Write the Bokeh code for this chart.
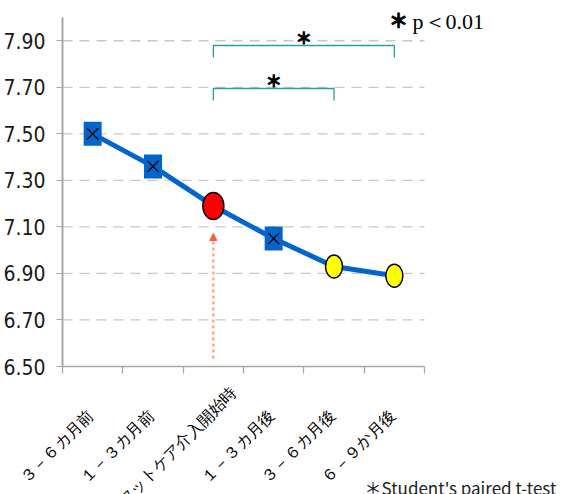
import math
from bokeh.plotting import figure
from bokeh.models import (Range1d, FixedTicker, PrintfTickFormatter, Label, LabelSet,
                          Arrow, NormalHead, ColumnDataSource, LinearAxis)
from bokeh.embed import file_html
from bokeh.resources import INLINE

# ---------------- data ----------------
categories = ["３－６カ月前", "１－３カ月前", "フットケア介入開始時", "１－３カ月後", "３－６カ月後", "６－９か月後"]
values = [7.50, 7.36, 7.19, 7.05, 6.93, 6.89]
y_ticks = [6.50, 6.70, 6.90, 7.10, 7.30, 7.50, 7.70, 7.90]
y_min, y_max = 6.5, 8.0
square_idx = [0, 1, 3]      # blue square markers
start_idx = [2]             # intervention start (red)
post_idx = [4, 5]           # significant post values (yellow)
comparisons = [(2, 5), (2, 4)]
sig_mark = "＊"
sig_note = "p＜0.01"
test_note = "＊Student's paired t-test"

xs = [i + 1 for i in range(len(categories))]
x_min, x_max = 0.5, len(categories) + 0.5

# ---------------- layout (pixel geometry of the plot area) ----------------
W, H = 561, 494
FR_L, FR_R, FR_T, FR_B = 62, 424, 17, 366
PX_X = (FR_R - FR_L) / (x_max - x_min)
PX_Y = (FR_B - FR_T) / (y_max - y_min)
X0 = x_min - FR_L / PX_X
X1 = X0 + W / PX_X
Y1 = y_max + FR_T / PX_Y
Y0 = Y1 - H / PX_Y


def dx(px):
    return X0 + px / PX_X


def dy(py):
    return Y1 - py / PX_Y


p = figure(width=W, height=H, x_range=Range1d(X0, X1), y_range=Range1d(Y0, Y1),
           x_axis_location=None, y_axis_location=None,
           output_backend="svg", toolbar_location=None, min_border=0)
p.outline_line_color = None
p.background_fill_color = "white"
p.border_fill_color = "white"
p.xgrid.visible = False
p.ygrid.visible = False

# dashed horizontal grid lines inside the plot area
gt = y_ticks[1:]
p.segment(x0=[x_min] * len(gt), y0=gt, x1=[x_max] * len(gt), y1=gt,
          line_color="#c8c8c8", line_dash="10 7", line_width=1.3)

# y axis
yaxis = LinearAxis(fixed_location=x_min, bounds=(y_min, y_max),
                   ticker=FixedTicker(ticks=y_ticks),
                   formatter=PrintfTickFormatter(format="%.2f"))
yaxis.major_tick_out = 6
yaxis.major_tick_in = 0
yaxis.minor_tick_out = 0
yaxis.minor_tick_in = 0
yaxis.axis_line_color = "#a8a8a8"
yaxis.axis_line_width = 2
yaxis.major_tick_line_color = "#a8a8a8"
yaxis.major_label_text_font = "Liberation Sans Narrow, DejaVu Sans Condensed, Roboto Condensed, Roboto"
yaxis.major_label_text_font_size = "21px"
yaxis.major_label_text_color = "#1a1a1a"
yaxis.major_label_standoff = 11
p.add_layout(yaxis, "left")

# x axis: ticks at category boundaries
xaxis = LinearAxis(fixed_location=y_min, bounds=(x_min, x_max),
                   ticker=FixedTicker(ticks=[], minor_ticks=[x - 0.5 for x in xs] + [x_max]))
xaxis.major_tick_out = 0
xaxis.major_tick_in = 0
xaxis.minor_tick_out = 7
xaxis.minor_tick_in = 0
xaxis.minor_tick_line_color = "#a8a8a8"
xaxis.minor_tick_line_width = 1.3
xaxis.axis_line_color = "#a8a8a8"
xaxis.axis_line_width = 1.5
p.add_layout(xaxis, "below")

# category labels (rotated, centred like the original)
lab_src = ColumnDataSource(dict(x=xs, y=[y_min] * len(xs), text=categories))
p.add_layout(LabelSet(x="x", y="y", text="text", source=lab_src,
                      x_offset=-36, y_offset=-80, angle=math.pi / 4,
                      text_align="center", text_baseline="middle",
                      text_font="Noto Sans CJK JP", text_font_size="16px",
                      text_color="#000000"))

# series line
p.line(xs, values, line_color="#0066cc", line_width=5)

# square markers with X
sx = [xs[i] for i in square_idx]
sy = [values[i] for i in square_idx]
p.rect(sx, sy, width=18, height=24, width_units="screen", height_units="screen",
       fill_color="#0066cc", line_color=None)
p.scatter(sx, sy, marker="x", size=16, line_color="black", line_width=1.3)

# intervention start
p.ellipse([xs[i] for i in start_idx], [values[i] for i in start_idx],
          width=21, height=27, width_units="screen", height_units="screen",
          fill_color="#ff0000", line_color="black", line_width=1.5)

# post values
p.ellipse([xs[i] for i in post_idx], [values[i] for i in post_idx],
          width=17, height=23, width_units="screen", height_units="screen",
          fill_color="#ffff00", line_color="black", line_width=1.5)

# dashed arrow pointing to intervention start
ax = xs[start_idx[0]]
p.add_layout(Arrow(end=NormalHead(size=7, fill_color="#ff5a30", line_color="#ff5a30"),
                   x_start=ax, y_start=dy(358), x_end=ax, y_end=dy(233),
                   line_color="#ff9a80", line_width=2.2, line_dash="3 3"))

# significance brackets
bracket_tops = [dy(45), dy(88)]
leg = 12 / PX_Y
for (a, b), top in zip(comparisons, bracket_tops):
    p.line([xs[a], xs[a], xs[b], xs[b]], [top - leg, top, top, top - leg],
           line_color="#2a9fa3", line_width=1.3)
    p.add_layout(Label(x=(xs[a] + xs[b]) / 2, y=top + 8.5 / PX_Y, text=sig_mark,
                       text_align="center", text_baseline="middle",
                       text_font="Noto Sans CJK JP", text_font_style="bold",
                       text_font_size="16px", text_color="black",
                       text_outline_color="black"))

# notes
p.add_layout(Label(x=dx(398), y=dy(19), text=sig_mark, text_align="center",
                   text_baseline="middle", text_font="Noto Sans CJK JP",
                   text_font_style="bold", text_font_size="19px", text_color="black",
                   text_outline_color="black"))
p.add_layout(Label(x=dx(412), y=dy(21), text=sig_note, text_align="left",
                   text_baseline="middle", text_font="Liberation Serif",
                   text_font_size="22px", text_color="black"))
p.add_layout(Label(x=dx(364), y=dy(487), text=test_note, text_align="left",
                   text_baseline="middle", text_font="Noto Sans CJK JP",
                   text_font_size="17px", text_color="#222222"))

open("out.html", "w").write(file_html(p, INLINE))
